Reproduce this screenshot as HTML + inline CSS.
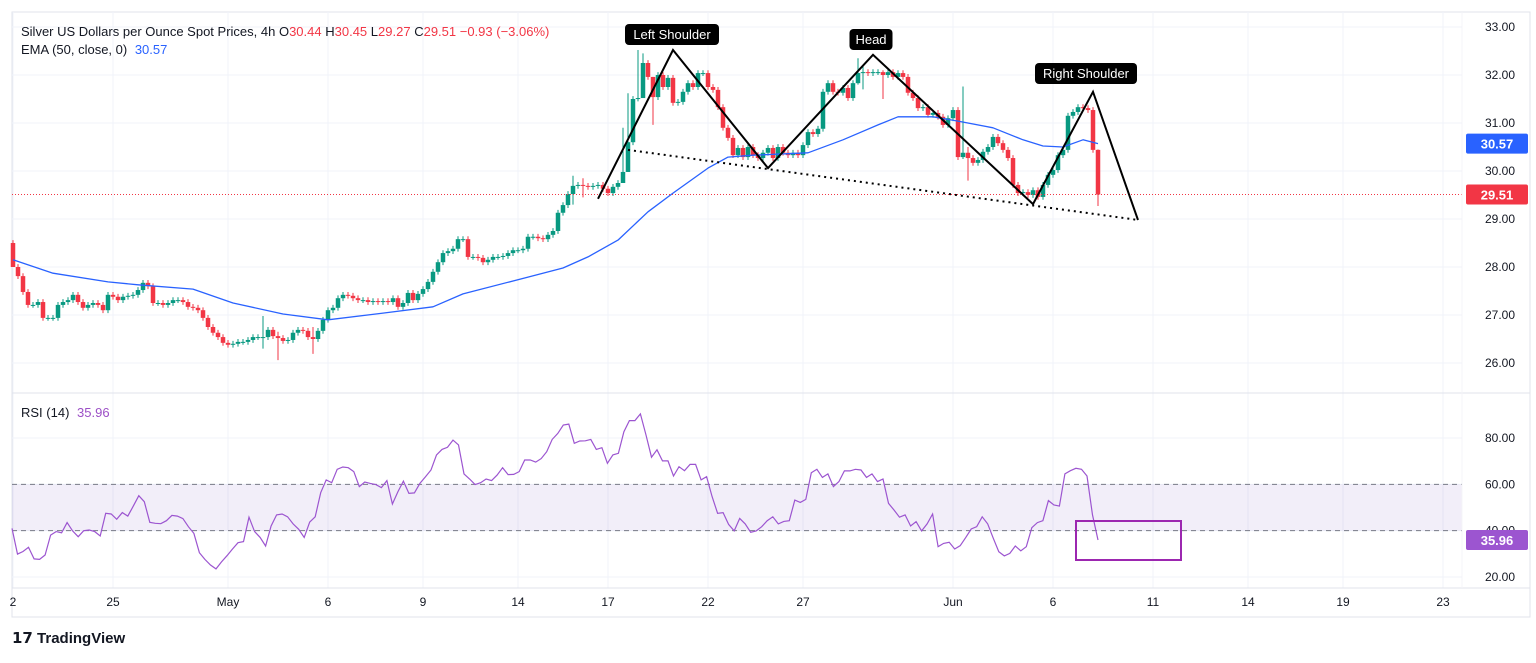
<!DOCTYPE html>
<html><head><meta charset="utf-8"><style>
body{margin:0;background:#fff;width:1536px;height:658px;overflow:hidden;font-family:"Liberation Sans",sans-serif}
svg text{font-family:"Liberation Sans",sans-serif}
</style></head><body>
<svg id="c" width="1536" height="658" viewBox="0 0 1536 658">
<rect x="0" y="0" width="1536" height="658" fill="#fff"/>
<rect x="12" y="12" width="1518" height="605" fill="none" stroke="#e0e3eb"/>
<g id="grid"></g><g id="rsiBand"></g><g id="marks"></g><g id="overlay"></g><g id="axes"></g>
<text x="21" y="36" font-size="13" fill="#131722">Silver US Dollars per Ounce Spot Prices, 4h <tspan fill="#131722">O</tspan><tspan fill="#f23645">30.44</tspan> <tspan>H</tspan><tspan fill="#f23645">30.45</tspan> <tspan>L</tspan><tspan fill="#f23645">29.27</tspan> <tspan>C</tspan><tspan fill="#f23645">29.51  −0.93 (−3.06%)</tspan></text>
<text x="21" y="54" font-size="13" fill="#131722">EMA (50, close, 0) <tspan fill="#2962ff" dx="4">30.57</tspan></text>
<text x="21" y="417" font-size="13" fill="#131722">RSI (14) <tspan fill="#9c4fc6" dx="4">35.96</tspan></text>
<g><text x="12" y="643" font-size="15" font-weight="bold" fill="#131722">𝟭𝟳 TradingView</text></g>
</svg>
<script>
const closes=[28.00,27.81,27.48,27.21,27.21,27.27,26.94,26.94,26.94,27.21,27.27,27.31,27.42,27.27,27.15,27.21,27.25,27.21,27.10,27.42,27.38,27.31,27.38,27.40,27.42,27.52,27.67,27.60,27.25,27.25,27.21,27.25,27.31,27.31,27.27,27.17,27.15,27.10,26.94,26.75,26.63,26.54,26.42,26.38,26.40,26.44,26.44,26.48,26.54,26.54,26.54,26.69,26.56,26.52,26.46,26.48,26.63,26.69,26.67,26.54,26.50,26.67,26.90,27.10,27.15,27.35,27.42,27.40,27.35,27.31,27.31,27.27,27.29,
27.27,27.29,27.27,27.35,27.17,27.25,27.46,27.31,27.44,27.54,27.69,27.90,28.10,28.29,28.33,28.38,28.58,28.58,28.21,28.21,28.19,28.10,28.15,28.21,28.21,28.23,28.29,28.35,28.35,28.38,28.63,28.63,28.60,28.58,28.67,28.75,29.13,29.29,29.52,29.69,29.71,29.69,29.67,29.69,29.71,29.63,29.54,29.67,29.75,29.98,30.60,31.50,31.52,32.25,31.96,31.54,32.00,31.75,31.94,31.42,31.44,31.65,31.83,31.75,32.04,32.04,31.75,31.69,31.33,30.90,30.69,30.33,30.48,
30.29,30.50,30.33,30.27,30.38,30.48,30.27,30.50,30.38,30.33,30.38,30.33,30.54,30.81,30.77,30.88,31.65,31.83,31.65,31.63,31.73,31.52,31.83,32.04,32.06,32.04,32.06,32.06,32.00,32.06,31.96,32.04,31.96,31.63,31.52,31.31,31.33,31.17,31.21,31.13,30.96,31.10,31.27,30.29,30.38,30.27,30.17,30.23,30.40,30.50,30.71,30.58,30.44,30.27,29.71,29.54,29.56,29.50,29.60,29.46,29.71,29.92,30.02,30.33,30.44,31.15,31.23,31.33,31.31,31.27,30.44,29.51];
const firstOpen=28.50;
const wickIdx=[0,50,53,60,112,114,122,123,125,126,128,169,170,174,190,191,217];
const wickHigh=[28.56,26.98,26.65,26.75,29.9,29.85,30.9,31.62,32.52,32.45,31.9,32.35,32.2,32.1,31.76,30.5,30.45];
const wickLow=[28.0,26.3,26.06,26.19,29.3,29.45,29.9,30.5,31.45,31.9,30.96,31.8,31.7,31.5,30.25,29.8,29.27];
const emaIdx=[0,8,19,25,36,44,54,63,74,84,90,103,110,115,121,127,132,139,143,148,159,166,173,177,184,189,196,202,206,210,214,217];
const emaVal=[28.15,27.87,27.69,27.63,27.54,27.25,27.02,26.90,27.04,27.17,27.44,27.79,27.98,28.21,28.56,29.15,29.54,30.06,30.29,30.33,30.38,30.65,30.96,31.13,31.13,31.04,30.90,30.65,30.52,30.50,30.65,30.57];
const rsi=[41,29.9,31,32.8,27.8,27.6,29.5,38.1,39.6,39.1,43.5,39.9,37.4,40,40.3,39.6,37.7,47.5,47.2,44.9,47.8,46.3,50.6,55.1,52.5,43.6,43.2,43,44.3,46.6,46.3,45.2,41.7,38.8,30.5,27.6,25.2,23.5,26.5,29.2,32.1,34.8,35.3,45.8,39.6,37.1,33.4,42,46.8,47.2,46,42.9,40.6,37.1,43.7,46,56.4,61.9,60.7,66.5,67.5,67.2,65.5,59,61,60.4,59.9,58.6,61.6,51.5,56.8,61.4,56.1,56.3,60.4,63.3,66.2,72.7,75.1,76,79.1,77,64.5,62.3,59.9,60.7,62.3,61.6,64,67.2,64.2,64.3,65.5,70.5,70.5,69.6,71.1,74.1,79.4,
82,85.6,86,77.7,78.7,78.8,79.4,75.1,75.8,69.1,72.7,73.4,82.7,87.5,87.5,90.4,81.3,71.7,74.9,70.1,70.1,63.6,67.6,65.9,68.6,68.6,61.9,63.3,54.7,47.5,47.8,42.7,39.9,45.3,42.9,39.3,39.9,41.7,44.3,46,42.9,44,44.3,53.2,52.2,53.5,65,66.5,63,64.5,59,61.2,65.8,65.8,66.5,66.2,63,64.5,61.2,62.3,51.8,48.9,45.8,46.8,42,43.9,39.9,42.9,47.2,33.1,34.5,35,32.1,33.5,37,40.7,41.7,46,42.9,36.7,30.9,29.1,30.2,33.4,31.3,33.1,41.3,43.5,44.3,53,51.1,50.6,64.5,65.9,66.9,66.5,63.6,46.8,35.96];
const priceTicks=[33,32,31,30,29,28,27,26];
const rsiTicks=[80,60,40,20];
const dateIdx=[0,20,43,63,82,101,119,139,158,188,208,228,247,266,286];
const dateLabels=["2","25","May","6","9","14","17","22","27","Jun","6","11","14","19","23"];
const patternIdx=[117,132,151,172,204,216,225];
const patternPrice=[29.42,32.52,30.06,32.42,29.31,31.65,28.98];
const necklineIdx=[123,225];
const necklinePrice=[30.44,28.98];
const lastClose=29.51, lastEma=30.57, lastRsi=35.96;

const NS="http://www.w3.org/2000/svg";
const X0=13, STEP=(1098-13)/(closes.length-1), PR=1462;
const xi=i=>X0+i*STEP;
const yp=p=>27+(33-p)*48;
const yr=v=>438+(80-v)*(139/60);
function mk(tag,attrs,parent){const e=document.createElementNS(NS,tag);for(const k in attrs)e.setAttribute(k,attrs[k]);parent.appendChild(e);return e;}
const grid=document.getElementById('grid'),marks=document.getElementById('marks'),ov=document.getElementById('overlay'),ax=document.getElementById('axes'),band=document.getElementById('rsiBand');
priceTicks.forEach(t=>{const l=mk('line',{x1:12,x2:PR,y1:yp(t),y2:yp(t),stroke:'#f0f3fa'},grid);
 const tx=mk('text',{x:1500,y:yp(t)+4,'font-size':12,fill:'#131722','text-anchor':'middle'},ax);tx.textContent=t.toFixed(2);});
rsiTicks.forEach(t=>{const l=mk('line',{x1:12,x2:PR,y1:yr(t),y2:yr(t),stroke:'#f0f3fa'},grid);
 const tx=mk('text',{x:1500,y:yr(t)+4,'font-size':12,fill:'#131722','text-anchor':'middle'},ax);tx.textContent=t.toFixed(2);});
dateIdx.forEach((d,k)=>{const x=xi(d);const l=mk('line',{x1:x,x2:x,y1:12,y2:588,stroke:'#f0f3fa'},grid);
 const tx=mk('text',{x:x,y:606,'font-size':12,fill:'#131722','text-anchor':'middle'},ax);tx.textContent=dateLabels[k];});
let sep=mk('line',{x1:12,x2:1530,y1:393,y2:393,stroke:'#e0e3eb'},ax);
let bl=mk('line',{x1:12,x2:1530,y1:588,y2:588,stroke:'#e0e3eb'},ax);
let rl=mk('line',{x1:PR,x2:PR,y1:12,y2:588,stroke:'#f4f4f8'},ax);
let bd=mk('rect',{x:12,y:yr(60),width:PR-12,height:yr(40)-yr(60),fill:'rgba(126,87,194,0.1)'},band);
[60,40].forEach(v=>{const l=mk('line',{x1:12,x2:PR,y1:yr(v),y2:yr(v),stroke:'#787b86','stroke-dasharray':'5,4'},band);});
closes.forEach((c,i)=>{const o=i?closes[i-1]:firstOpen;let hi=Math.max(o,c)+0.06,lo=Math.min(o,c)-0.06;const w=wickIdx.indexOf(i);if(w>=0){hi=Math.max(wickHigh[w],Math.max(o,c));lo=Math.min(wickLow[w],Math.min(o,c));}
 const col=c>=o?'#089981':'#f23645';const x=xi(i);const g=mk('g',{},marks);
 mk('line',{x1:x,x2:x,y1:yp(hi),y2:yp(lo),stroke:col,'stroke-width':1},g);
 const top=yp(Math.max(o,c)),h=Math.max(1,yp(Math.min(o,c))-top);mk('rect',{x:x-2.25,y:top,width:4.5,height:h,fill:col},g);});
let ed=emaIdx.map((d,k)=>(k?'L':'M')+xi(d).toFixed(1)+','+yp(emaVal[k]).toFixed(1)).join(' ');
let ep=mk('path',{d:ed,fill:'none',stroke:'#2962ff','stroke-width':1.3,'stroke-linejoin':'round'},marks);
const rs=(1098-12)/(rsi.length-1);
let rd=rsi.map((v,k)=>(k?'L':'M')+(12+k*rs).toFixed(1)+','+yr(v).toFixed(1)).join(' ');
let rp=mk('path',{d:rd,fill:'none',stroke:'#9c55d0','stroke-width':1.2},marks);
let lp=mk('line',{x1:12,x2:PR,y1:yp(lastClose),y2:yp(lastClose),stroke:'#f23645','stroke-dasharray':'1,2'},ov);
let pd=patternIdx.map((d,k)=>(k?'L':'M')+xi(d).toFixed(1)+','+yp(patternPrice[k]).toFixed(1)).join(' ');
let pp=mk('path',{d:pd,fill:'none',stroke:'#000','stroke-width':2},ov);
let nl=mk('line',{x1:xi(necklineIdx[0]),y1:yp(necklinePrice[0]),x2:xi(necklineIdx[1]),y2:yp(necklinePrice[1]),stroke:'#000','stroke-width':2,'stroke-dasharray':'2,4'},ov);
function label(txt,cx,y,w,name){const g=mk('g',{},ov);
 mk('rect',{x:cx-w/2,y:y,width:w,height:21,rx:4,fill:'#000'},g);const t=mk('text',{x:cx,y:y+15,'font-size':13,fill:'#fff','text-anchor':'middle'},g);t.textContent=txt;}
label('Left Shoulder',672,24,94,'left-shoulder-label');
label('Head',871,29,43,'head-label');
label('Right Shoulder',1086,63,102,'right-shoulder-label');
let box=mk('rect',{x:1076,y:521,width:105,height:39,fill:'none',stroke:'#9c27b0','stroke-width':2},ov);
function badge(v,y,col,name){const g=mk('g',{},ax);
 mk('rect',{x:1466,y:y-10,width:62,height:20,rx:2,fill:col},g);const t=mk('text',{x:1497,y:y+5,'font-size':13,'font-weight':'bold',fill:'#fff','text-anchor':'middle'},g);t.textContent=v.toFixed(2);}
badge(lastEma,yp(lastEma),'#2962ff','ema-price-badge');
badge(lastClose,yp(lastClose),'#f23645','last-price-badge');
badge(lastRsi,yr(lastRsi),'#9c55d0','rsi-value-badge');
</script>
</body></html>
